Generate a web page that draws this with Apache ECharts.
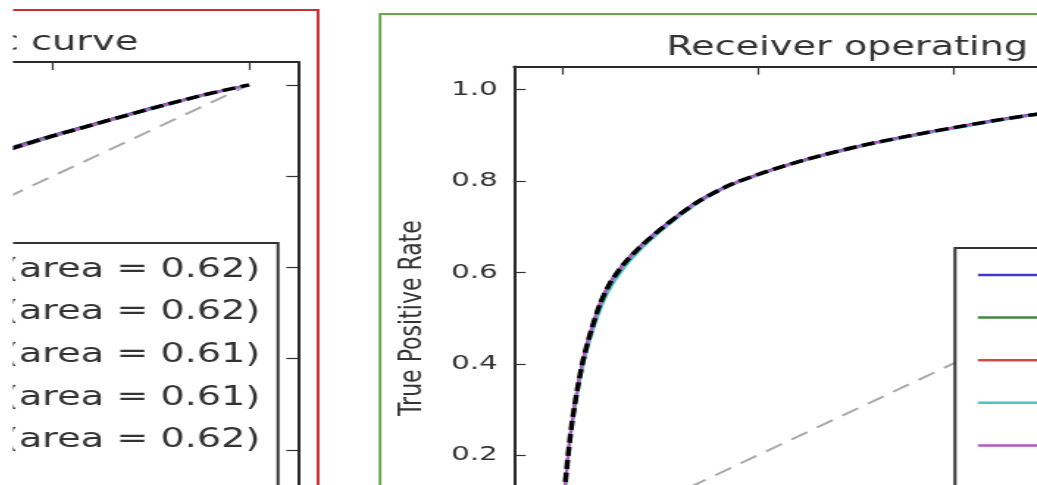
<!DOCTYPE html>
<html>
<head>
<meta charset="utf-8">
<title>Receiver operating characteristic curve</title>
<script src="https://cdn.jsdelivr.net/npm/echarts@6.0.0/dist/echarts.min.js"></script>
<style>
  html, body { margin: 0; padding: 0; background: #fff; overflow: hidden; width: 1037px; height: 485px; }
  #chart { position: absolute; left: -830px; top: 0; width: 1721px; height: 620px; transform: scaleX(1.47); transform-origin: 0 0; }
</style>
</head>
<body>
<div id="chart"></div>
<script>
// -----------------------------------------------------------------------------
// Deux panneaux ROC cote a cote. L'image d'origine est etiree en largeur,
// donc le graphique est dessine etroit puis elargi par CSS (STRETCH).
// -----------------------------------------------------------------------------
const STRETCH = 1.47;
const OFFSET = 830; // bord gauche du canvas = -OFFSET px dans la page
const FONT = "'DejaVu Sans', sans-serif";

const tickValues = [0, 0.2, 0.4, 0.6, 0.8, 1.0];
const foldColors = ["#3c3cc8", "#3d8a3d", "#d04a4a", "#4fc3c3", "#b852c8"];
const luckX = [0, 1];
const luckY = [0, 1];

// panneau gauche (AUC ~ 0.62)
const leftNames = [
  "ROC fold 0 (area = 0.62)",
  "ROC fold 1 (area = 0.62)",
  "ROC fold 2 (area = 0.61)",
  "ROC fold 3 (area = 0.61)",
  "ROC fold 4 (area = 0.62)"
];
const leftMeanName = "Mean ROC (area = 0.62)";
const leftFpr = [0, 0.05, 0.1, 0.2, 0.3, 0.4, 0.5, 0.6, 0.7, 0.76, 0.8, 0.85, 0.9, 0.95, 1];
const leftFold0 = [0, 0.13, 0.22, 0.37, 0.49, 0.59, 0.68, 0.755, 0.83, 0.865, 0.89, 0.92, 0.95, 0.977, 1];
const leftFold1 = [0, 0.12, 0.22, 0.36, 0.48, 0.585, 0.675, 0.752, 0.828, 0.864, 0.889, 0.919, 0.949, 0.976, 1];
const leftFold2 = [0, 0.11, 0.2, 0.35, 0.47, 0.57, 0.66, 0.745, 0.822, 0.859, 0.886, 0.916, 0.947, 0.975, 1];
const leftFold3 = [0, 0.11, 0.2, 0.35, 0.47, 0.575, 0.665, 0.744, 0.823, 0.86, 0.886, 0.917, 0.946, 0.975, 1];
const leftFold4 = [0, 0.12, 0.21, 0.36, 0.48, 0.58, 0.67, 0.75, 0.826, 0.862, 0.888, 0.918, 0.948, 0.976, 1];
const leftMean = [0, 0.12, 0.21, 0.36, 0.48, 0.58, 0.67, 0.75, 0.826, 0.862, 0.888, 0.918, 0.948, 0.976, 1];

// panneau droit (AUC ~ 0.88)
const rightNames = [
  "ROC fold 0 (area = 0.88)",
  "ROC fold 1 (area = 0.88)",
  "ROC fold 2 (area = 0.87)",
  "ROC fold 3 (area = 0.87)",
  "ROC fold 4 (area = 0.88)"
];
const rightMeanName = "Mean ROC (area = 0.88)";
const rightFpr = [0, 0.001, 0.002, 0.004, 0.007, 0.0103, 0.015, 0.0205, 0.028, 0.038, 0.048, 0.062, 0.079, 0.0995, 0.12, 0.1405, 0.17, 0.2, 0.2256, 0.2636, 0.312, 0.366, 0.397, 0.44, 0.486, 0.55, 0.62, 0.7, 0.8, 0.9, 1];
const rightFold0 = [0, 0.06, 0.124, 0.17, 0.232, 0.286, 0.347, 0.407, 0.467, 0.532, 0.577, 0.619, 0.657, 0.695, 0.729, 0.759, 0.791, 0.815, 0.833, 0.856, 0.881, 0.904, 0.916, 0.932, 0.947, 0.962, 0.973, 0.982, 0.99, 0.996, 1];
const rightFold1 = [0, 0.058, 0.122, 0.168, 0.229, 0.283, 0.344, 0.404, 0.464, 0.529, 0.574, 0.616, 0.654, 0.692, 0.726, 0.756, 0.789, 0.813, 0.831, 0.854, 0.879, 0.902, 0.914, 0.93, 0.945, 0.96, 0.971, 0.98, 0.989, 0.995, 1];
const rightFold2 = [0, 0.057, 0.12, 0.166, 0.226, 0.28, 0.34, 0.4, 0.46, 0.525, 0.571, 0.613, 0.652, 0.69, 0.724, 0.755, 0.788, 0.812, 0.83, 0.853, 0.878, 0.901, 0.914, 0.93, 0.945, 0.96, 0.971, 0.98, 0.989, 0.995, 1];
const rightFold3 = [0, 0.055, 0.118, 0.163, 0.222, 0.275, 0.334, 0.392, 0.452, 0.515, 0.562, 0.607, 0.648, 0.688, 0.723, 0.754, 0.788, 0.812, 0.83, 0.853, 0.878, 0.901, 0.913, 0.929, 0.944, 0.959, 0.97, 0.98, 0.989, 0.995, 1];
const rightFold4 = [0, 0.06, 0.125, 0.17, 0.23, 0.284, 0.345, 0.405, 0.465, 0.53, 0.575, 0.617, 0.655, 0.693, 0.727, 0.757, 0.79, 0.814, 0.832, 0.855, 0.88, 0.903, 0.915, 0.931, 0.946, 0.961, 0.972, 0.981, 0.99, 0.996, 1];
const rightMean = [0, 0.06, 0.125, 0.17, 0.23, 0.284, 0.345, 0.405, 0.465, 0.53, 0.575, 0.617, 0.655, 0.693, 0.727, 0.757, 0.79, 0.814, 0.832, 0.855, 0.88, 0.903, 0.915, 0.931, 0.946, 0.961, 0.972, 0.981, 0.99, 0.996, 1];

const host = document.getElementById("chart");
const chart = echarts.init(host);
const W = chart.getWidth();

// x de la page -> x du canvas (avant etirement)
const px = (x) => (x + OFFSET) / STRETCH;
const zip = (xs, ys) => xs.map((x, i) => [x, ys[i]]);

const spine = { show: true, onZero: false, lineStyle: { color: "#2a2a2a", width: 2 } };
const ticks = { show: true, inside: true, length: 8, customValues: tickValues, lineStyle: { color: "#333", width: 1.2 } };
const fmt = (v) => v.toFixed(1);

function xAxes(gridIndex) {
  return [
    {
      type: "value", gridIndex, min: -0.05, max: 1.05, position: "bottom",
      name: "False Positive Rate", nameLocation: "middle", nameGap: 40,
      nameTextStyle: { fontFamily: FONT, fontSize: 22, color: "#333" },
      axisLine: spine, axisTick: ticks, splitLine: { show: false },
      axisLabel: { customValues: tickValues, formatter: fmt, margin: 11, fontFamily: FONT, fontSize: 20, color: "#333" }
    },
    {
      type: "value", gridIndex, min: -0.05, max: 1.05, position: "top",
      axisLine: spine, axisTick: ticks, splitLine: { show: false }, axisLabel: { show: false }
    }
  ];
}

function yAxes(gridIndex) {
  return [
    {
      type: "value", gridIndex, min: -0.05, max: 1.05, position: "left",
      name: "True Positive Rate", nameLocation: "middle", nameGap: 58,
      nameTextStyle: { fontFamily: FONT, fontSize: 22, color: "#333" },
      axisLine: spine, axisTick: ticks, splitLine: { show: false },
      axisLabel: { customValues: tickValues, formatter: fmt, margin: 11, fontFamily: FONT, fontSize: 20, color: "#333" }
    },
    {
      type: "value", gridIndex, min: -0.05, max: 1.05, position: "right",
      axisLine: spine, axisTick: ticks, splitLine: { show: false }, axisLabel: { show: false }
    }
  ];
}

function panelSeries(axisIndex, names, fpr, folds, meanName, mean, smooth) {
  const out = folds.map((tpr, i) => ({
    type: "line", name: names[i], xAxisIndex: axisIndex, yAxisIndex: axisIndex,
    data: zip(fpr, tpr), symbol: "none", smooth,
    lineStyle: { color: foldColors[i], width: 2 }, itemStyle: { color: foldColors[i] }
  }));
  out.push({
    type: "line", name: "Luck", xAxisIndex: axisIndex, yAxisIndex: axisIndex,
    data: zip(luckX, luckY), symbol: "none",
    lineStyle: { color: "#aaaaaa", width: 2, type: [13, 8] }, itemStyle: { color: "#aaaaaa" }
  });
  out.push({
    type: "line", name: meanName, xAxisIndex: axisIndex, yAxisIndex: axisIndex,
    data: zip(fpr, mean), symbol: "none", smooth,
    lineStyle: { color: "#000", width: 3.5, type: [9, 4] }, itemStyle: { color: "#000" }
  });
  return out;
}

function legendBox(names, pos) {
  return Object.assign({
    data: names, orient: "vertical", padding: [12, 12, 10, 15.6],
    icon: "rect", itemGap: 12.6, itemWidth: 50, itemHeight: 2.5,
    backgroundColor: "#fff", borderColor: "#333", borderWidth: 2, borderRadius: 0,
    textStyle: { fontFamily: FONT, fontSize: 26, lineHeight: 30, color: "#333" }
  }, pos);
}

const title = "Receiver operating characteristic curve";
const titleText = (cx, cy) => ({
  type: "text", x: px(cx), y: cy, silent: true,
  style: {
    text: title, font: "26px " + FONT, fill: "#333",
    align: "center", verticalAlign: "middle", textAlign: "center", textVerticalAlign: "middle"
  }
});

chart.setOption({
  animation: false,
  backgroundColor: "#fff",
  grid: [
    { left: px(-781), top: 62, width: 1079 / STRETCH, height: 502, containLabel: false, outerBoundsMode: "none" },
    { left: px(514), top: 66.6, width: 1072.5 / STRETCH, height: 503, containLabel: false, outerBoundsMode: "none" }
  ],
  xAxis: [...xAxes(0), ...xAxes(1)],
  yAxis: [...yAxes(0), ...yAxes(1)],
  legend: [
    legendBox([...leftNames, "Luck", leftMeanName], { right: W - px(278), top: 243 }),
    legendBox([...rightNames, "Luck", rightMeanName], { left: px(955), top: 248 })
  ],
  series: [
    ...panelSeries(0, leftNames, leftFpr, [leftFold0, leftFold1, leftFold2, leftFold3, leftFold4], leftMeanName, leftMean, false),
    ...panelSeries(2, rightNames, rightFpr, [rightFold0, rightFold1, rightFold2, rightFold3, rightFold4], rightMeanName, rightMean, 0.2)
  ],
  graphic: [
    { type: "rect", silent: true, z: -10, shape: { x: 0, y: 10, width: px(318), height: 900 },
      style: { fill: "none", stroke: "#c93030", lineWidth: 2 } },
    { type: "rect", silent: true, z: -10, shape: { x: px(380), y: 14, width: 2000, height: 900 },
      style: { fill: "none", stroke: "#6aa84f", lineWidth: 2 } },
    titleText(-238.5, 43),
    titleText(1043, 48),
    // le panneau gauche est rogne a x = 13 dans l'image d'origine
    { type: "rect", silent: true, z: 100, shape: { x: 0, y: 0, width: px(13), height: 900 },
      style: { fill: "#fff" } }
  ]
});
</script>
</body>
</html>
